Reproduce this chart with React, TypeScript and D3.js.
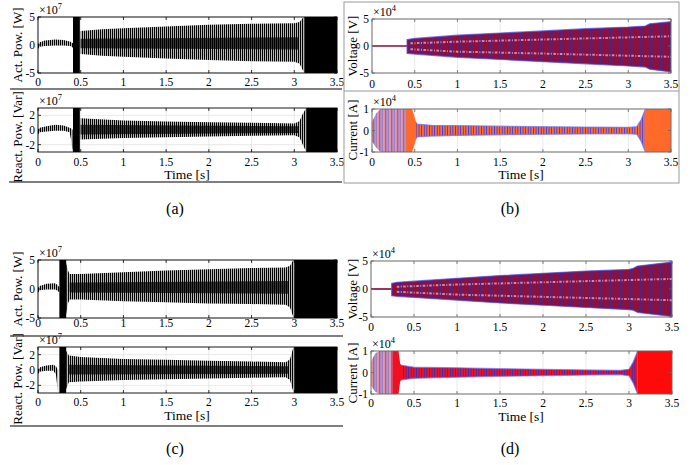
import React from "react";
import * as d3 from "d3";

type Env = [number, number, number]; // [time, lower, upper]

const timeTicks = [0, 0.5, 1, 1.5, 2, 2.5, 3, 3.5];

// (a) active power, x1e7
const actA_pre: Env[] = [[0, -0.7, 0.2], [0.02, -0.3, 0.5], [0.08, -0.2, 0.8], [0.2, -0.1, 1.0], [0.3, -0.1, 0.9], [0.38, -0.2, 0.6], [0.41, -0.5, 0.3]];
const actA_burst: Env[] = [[0.41, -5, 5], [0.49, -5, 5]];
const actA_main: Env[] = [[0.5, -1.6, 2.5], [0.75, -1.9, 2.8], [1.0, -2.1, 3.0], [1.5, -2.4, 3.3], [2.0, -2.7, 3.6], [2.5, -2.9, 3.8], [3.0, -3.0, 3.9], [3.06, -3.3, 4.1], [3.1, -4.5, 4.8], [3.12, -5, 5]];
const actA_core: Env[] = [[0.5, -0.6, 1.1], [3.05, -0.8, 1.4]];
const actA_tail: Env[] = [[3.12, -5, 5], [3.5, -5, 5]];

// (a) reactive power, x1e7
const reactA_pre: Env[] = [[0, -0.6, 0.1], [0.02, -0.3, 0.3], [0.1, -0.2, 0.5], [0.2, -0.1, 0.7], [0.3, -0.1, 0.6], [0.37, -0.3, 0.3], [0.39, -1.5, 0.2], [0.405, -3, 0]];
const reactA_burst: Env[] = [[0.41, -3, 3], [0.49, -3, 3]];
const reactA_main: Env[] = [[0.5, -1.3, 1.6], [1.0, -1.1, 1.3], [1.5, -1.0, 1.15], [2.0, -0.9, 1.05], [2.5, -0.8, 1.0], [3.0, -0.7, 0.9], [3.06, -1.0, 1.2], [3.1, -2.0, 2.2], [3.14, -3, 3]];
const reactA_core: Env[] = [[0.5, -0.6, 0.7], [3.05, -0.4, 0.5]];
const reactA_tail: Env[] = [[3.14, -3, 3], [3.5, -3, 3]];

// (b) voltage, x1e4
const voltB_pre: Env[] = [[0, -0.15, 0.15], [0.41, -0.15, 0.15]];
const voltB_main: Env[] = [[0.41, -1.4, 1.2], [0.5, -1.5, 1.4], [1.0, -2.1, 2.0], [1.5, -2.5, 2.4], [2.0, -2.9, 2.8], [2.5, -3.3, 3.2], [3.0, -3.7, 3.5], [3.2, -3.9, 3.7], [3.25, -4.3, 4.1], [3.5, -4.8, 4.5]];
const voltB_beads: Env[] = [[0.45, -0.6, 0.5], [1.0, -1.05, 0.8], [2.0, -1.4, 1.2], [3.0, -1.8, 1.6], [3.5, -2.0, 1.8]];

// (b) current, x1e4
const curB_pre: Env[] = [[0, -0.5, 0.4], [0.05, -0.8, 0.8], [0.1, -1, 1], [0.42, -1, 1]];
const curB_burst: Env[] = [[0.4, -1, 1], [0.47, -1, 1], [0.5, -0.6, 0.6], [0.52, -0.35, 0.3]];
const curB_main: Env[] = [[0.5, -0.45, 0.45], [0.53, -0.3, 0.3], [0.7, -0.26, 0.24], [1.0, -0.23, 0.23], [1.5, -0.2, 0.2], [2.0, -0.18, 0.18], [2.5, -0.16, 0.16], [3.0, -0.15, 0.15], [3.1, -0.18, 0.18], [3.15, -0.5, 0.5], [3.2, -1, 1]];
const curB_tail: Env[] = [[3.2, -1, 1], [3.5, -1, 1]];

// (c) active power, x1e7
const actC_pre: Env[] = [[0, -0.6, 0.2], [0.02, -0.2, 0.5], [0.1, -0.1, 0.9], [0.2, -0.1, 1.0], [0.23, -0.3, 0.7], [0.25, -0.6, 0.3]];
const actC_burst: Env[] = [[0.25, -5, 5], [0.33, -5, 5]];
const actC_main: Env[] = [[0.33, -4.5, 4.5], [0.35, -2.5, 3.2], [0.37, -1.8, 2.6], [0.5, -1.8, 2.6], [1.0, -2.1, 2.9], [1.5, -2.3, 3.2], [2.0, -2.5, 3.4], [2.5, -2.6, 3.6], [2.9, -2.7, 3.7], [2.95, -3.2, 4.0], [2.98, -4.5, 4.8], [3.0, -5, 5]];
const actC_core: Env[] = [[0.37, -0.6, 1.1], [2.93, -0.8, 1.4]];
const actC_tail: Env[] = [[3.0, -5, 5], [3.5, -5, 5]];

// (c) reactive power, x1e7
const reactC_pre: Env[] = [[0, -0.5, 0.1], [0.03, -0.2, 0.4], [0.1, -0.1, 0.6], [0.18, -0.1, 0.7], [0.21, -0.6, 0.5], [0.235, -3, 0]];
const reactC_burst: Env[] = [[0.25, -3, 3], [0.33, -3, 3]];
const reactC_main: Env[] = [[0.33, -2.5, 2.5], [0.36, -1.6, 1.9], [0.5, -1.5, 1.7], [1.0, -1.3, 1.45], [1.5, -1.2, 1.35], [2.0, -1.1, 1.2], [2.5, -1.0, 1.1], [2.9, -0.95, 1.0], [2.95, -1.3, 1.4], [2.98, -2.5, 2.6], [3.0, -3, 3]];
const reactC_core: Env[] = [[0.36, -0.6, 0.7], [2.93, -0.5, 0.5]];
const reactC_tail: Env[] = [[3.0, -3, 3], [3.5, -3, 3]];

// (d) voltage, x1e4
const voltD_pre: Env[] = [[0, -0.15, 0.15], [0.24, -0.15, 0.15]];
const voltD_main: Env[] = [[0.24, -1.2, 1.0], [0.3, -1.3, 1.2], [0.5, -1.5, 1.4], [1.0, -2.0, 1.9], [1.5, -2.5, 2.4], [2.0, -2.9, 2.8], [2.5, -3.3, 3.2], [3.0, -3.7, 3.5], [3.05, -3.8, 3.7], [3.1, -4.2, 4.1], [3.5, -4.9, 4.8]];
const voltD_beads: Env[] = [[0.3, -0.5, 0.4], [1.0, -1.0, 0.8], [2.0, -1.4, 1.2], [3.0, -1.8, 1.6], [3.5, -2.0, 1.8]];

// (d) current, x1e4
const curD_pre: Env[] = [[0, -0.6, 0.5], [0.05, -0.9, 0.9], [0.1, -1, 1], [0.26, -1, 1]];
const curD_burst: Env[] = [[0.25, -1, 1], [0.32, -1, 1], [0.34, -0.4, 0.4], [0.36, -0.3, 0.3]];
const curD_main: Env[] = [[0.34, -0.35, 0.35], [0.5, -0.27, 0.25], [1.0, -0.22, 0.22], [1.5, -0.18, 0.18], [2.0, -0.15, 0.15], [2.5, -0.12, 0.12], [2.9, -0.1, 0.1], [3.0, -0.15, 0.15], [3.05, -0.5, 0.5], [3.1, -1, 1]];
const curD_tail: Env[] = [[3.1, -1, 1], [3.5, -1, 1]];

type Layer = { data: Env[]; fill: string; stroke?: string; dashed?: boolean };

type PlotProps = {
  id: string;
  left: number; right: number; top: number; bottom: number;
  yDomain: [number, number];
  yTicks: number[];
  ylabel: string;
  ylabelX: number;
  ylabelY: number;
  exp: string;
  tickBase: number;
  xlabel?: [number, number];
  layers: Layer[];
  box: string;
};

const serif = { fontFamily: '"Liberation Serif", "Times New Roman", Times, serif' };

function Plot(p: PlotProps) {
  const x = d3.scaleLinear().domain([0, 3.5]).range([p.left, p.right]);
  const y = d3.scaleLinear().domain(p.yDomain).range([p.bottom, p.top]);
  const area = d3.area<Env>().x(d => x(d[0])).y0(d => y(d[1])).y1(d => y(d[2]));
  const lineHi = d3.line<Env>().x(d => x(d[0])).y(d => y(d[2]));
  const lineLo = d3.line<Env>().x(d => x(d[0])).y(d => y(d[1]));
  const tk = 3;
  return (
    <g>
      <clipPath id={`clip-${p.id}`}>
        <rect x={p.left} y={p.top} width={p.right - p.left} height={p.bottom - p.top} />
      </clipPath>
      {timeTicks.map(t => (
        <line key={`gx${t}`} x1={x(t)} x2={x(t)} y1={p.top} y2={p.bottom} stroke="#e3e3e3" strokeWidth={0.8} />
      ))}
      {p.yTicks.map(v => (
        <line key={`gy${v}`} x1={p.left} x2={p.right} y1={y(v)} y2={y(v)} stroke="#e3e3e3" strokeWidth={0.8} />
      ))}
      <g clipPath={`url(#clip-${p.id})`}>
        {p.layers.map((l, i) =>
          l.dashed ? (
            <g key={i}>
              <path d={lineHi(l.data) || ""} fill="none" stroke={l.fill} strokeWidth={2} strokeDasharray="2.5 1.5 1 1.5" />
              <path d={lineLo(l.data) || ""} fill="none" stroke={l.fill} strokeWidth={2} strokeDasharray="2.5 1.5 1 1.5" />
            </g>
          ) : (
            <path key={i} d={area(l.data) || ""} fill={l.fill} stroke={l.stroke || "none"} strokeWidth={l.stroke ? 1.2 : 0} strokeOpacity={0.7} />
          )
        )}
      </g>
      {timeTicks.map(t => (
        <g key={`tx${t}`}>
          <line x1={x(t)} x2={x(t)} y1={p.bottom} y2={p.bottom - tk} stroke={p.box} strokeWidth={0.8} />
          <line x1={x(t)} x2={x(t)} y1={p.top} y2={p.top + tk} stroke={p.box} strokeWidth={0.8} />
          <text x={x(t)} y={p.tickBase} textAnchor="middle" fontSize={11.5} style={serif}>{String(t)}</text>
        </g>
      ))}
      {p.yTicks.map(v => (
        <g key={`ty${v}`}>
          <line x1={p.left} x2={p.left + tk} y1={y(v)} y2={y(v)} stroke={p.box} strokeWidth={0.8} />
          <line x1={p.right} x2={p.right - tk} y1={y(v)} y2={y(v)} stroke={p.box} strokeWidth={0.8} />
          <text x={p.left - 3} y={y(v) + 4} textAnchor="end" fontSize={11.5} style={serif}>{String(v)}</text>
        </g>
      ))}
      <rect x={p.left} y={p.top} width={p.right - p.left} height={p.bottom - p.top} fill="none" stroke={p.box} strokeWidth={0.9} />
      <text x={p.left + 1} y={p.top - 3} fontSize={12} style={serif}>
        ×10<tspan dy={-5} fontSize={8.5}>{p.exp}</tspan>
      </text>
      <text transform={`translate(${p.ylabelX},${p.ylabelY}) rotate(-90)`} textAnchor="middle" fontSize={13} style={serif}>{p.ylabel}</text>
      {p.xlabel && (
        <text x={p.xlabel[0]} y={p.xlabel[1]} textAnchor="middle" fontSize={13.5} style={serif}>Time [s]</text>
      )}
    </g>
  );
}

export default function App() {
  const black = "url(#stBlack)";
  const dense = "url(#stDense)";
  return (
    <svg width={699} height={465} style={{ position: "absolute", left: 0, top: 0, background: "#fff" }}>
      <defs>
        <pattern id="stBlack" width={2} height={10} patternUnits="userSpaceOnUse">
          <rect width={2} height={10} fill="#f4f4f4" />
          <rect width={1.25} height={10} fill="#000" />
        </pattern>
        <pattern id="stDense" width={2} height={10} patternUnits="userSpaceOnUse">
          <rect width={2} height={10} fill="#888" />
          <rect width={1.6} height={10} fill="#000" />
        </pattern>
        <pattern id="stVolt" width={2.5} height={10} patternUnits="userSpaceOnUse">
          <rect width={2.5} height={10} fill="#8e0f3a" />
          <rect width={0.6} height={10} fill="#3a2a96" />
        </pattern>
        <pattern id="stCurPre" width={6} height={10} patternUnits="userSpaceOnUse">
          <rect width={6} height={10} fill="#f4e8f0" />
          <rect x={0} width={1.4} height={10} fill="#e090a0" />
          <rect x={1.4} width={1.1} height={10} fill="#b0103a" />
          <rect x={2.5} width={1.4} height={10} fill="#9090e0" />
          <rect x={4.4} width={1} height={10} fill="#6a3aa8" />
        </pattern>
        <pattern id="stCurB" width={2.6} height={10} patternUnits="userSpaceOnUse">
          <rect width={2.6} height={10} fill="#ff6e30" />
          <rect width={0.9} height={10} fill="#3c3ce0" />
        </pattern>
        <pattern id="stCurD" width={2.6} height={10} patternUnits="userSpaceOnUse">
          <rect width={2.6} height={10} fill="#f01020" />
          <rect width={0.9} height={10} fill="#3030c0" />
        </pattern>
      </defs>

      {/* (a) */}
      <Plot id="a1" left={38} right={337} top={17} bottom={73} yDomain={[-5, 5]} yTicks={[-5, 0, 5]}
        ylabel="Act. Pow. [W]" ylabelX={22} ylabelY={45} exp="7" tickBase={86} box="#000"
        layers={[{ data: actA_pre, fill: black }, { data: actA_burst, fill: "#000" }, { data: actA_main, fill: black }, { data: actA_core, fill: dense }, { data: actA_tail, fill: "#000" }]} />
      <Plot id="a2" left={38} right={337} top={108} bottom={152} yDomain={[-3, 3]} yTicks={[-2, 0, 2]}
        ylabel="React. Pow. [Var]" ylabelX={22} ylabelY={137} exp="7" tickBase={166} xlabel={[187, 179]} box="#000"
        layers={[{ data: reactA_pre, fill: black }, { data: reactA_burst, fill: "#000" }, { data: reactA_main, fill: black }, { data: reactA_core, fill: dense }, { data: reactA_tail, fill: "#000" }]} />
      <line x1={10} x2={342} y1={89} y2={89} stroke="#000" strokeWidth={1.2} />
      <line x1={9} x2={342} y1={182} y2={182} stroke="#000" strokeWidth={1.2} />

      {/* (b) */}
      <rect x={344} y={2} width={335} height={181} fill="none" stroke="#999" strokeWidth={1} />
      <line x1={344} x2={679} y1={91} y2={91} stroke="#999" strokeWidth={1} />
      <Plot id="b1" left={372} right={671} top={19} bottom={73} yDomain={[-5, 5]} yTicks={[-5, 0, 5]}
        ylabel="Voltage [V]" ylabelX={357} ylabelY={46} exp="4" tickBase={88} box="#666"
        layers={[{ data: voltB_pre, fill: "#8a1040" }, { data: voltB_main, fill: "url(#stVolt)", stroke: "#4a4ae8" }, { data: voltB_beads, fill: "#d08ab0", dashed: true }]} />
      <Plot id="b2" left={372} right={671} top={109} bottom={152} yDomain={[-1, 1]} yTicks={[-1, 0, 1]}
        ylabel="Current [A]" ylabelX={357} ylabelY={130} exp="4" tickBase={166} xlabel={[521, 179]} box="#666"
        layers={[{ data: curB_pre, fill: "url(#stCurPre)" }, { data: curB_main, fill: "url(#stCurB)", stroke: "#7070f0" }, { data: curB_burst, fill: "#ff6a2a" }, { data: curB_tail, fill: "#ff6a2a" }]} />

      {/* (c) */}
      <Plot id="c1" left={38} right={337} top={260} bottom={318} yDomain={[-5, 5]} yTicks={[-5, 0, 5]}
        ylabel="Act. Pow. [W]" ylabelX={22} ylabelY={289} exp="7" tickBase={327} box="#000"
        layers={[{ data: actC_pre, fill: black }, { data: actC_burst, fill: "#000" }, { data: actC_main, fill: black }, { data: actC_core, fill: dense }, { data: actC_tail, fill: "#000" }]} />
      <Plot id="c2" left={38} right={337} top={347} bottom={393} yDomain={[-3, 3]} yTicks={[-2, 0, 2]}
        ylabel="React. Pow. [Var]" ylabelX={22} ylabelY={379} exp="7" tickBase={406} xlabel={[187, 420]} box="#000"
        layers={[{ data: reactC_pre, fill: black }, { data: reactC_burst, fill: "#000" }, { data: reactC_main, fill: black }, { data: reactC_core, fill: dense }, { data: reactC_tail, fill: "#000" }]} />
      <line x1={10} x2={343} y1={336} y2={336} stroke="#000" strokeWidth={1.2} />
      <line x1={10} x2={343} y1={426} y2={426} stroke="#000" strokeWidth={1.2} />

      {/* (d) */}
      <Plot id="d1" left={371} right={672} top={261} bottom={317} yDomain={[-5, 5]} yTicks={[-5, 0, 5]}
        ylabel="Voltage [V]" ylabelX={357} ylabelY={289} exp="4" tickBase={331} box="#666"
        layers={[{ data: voltD_pre, fill: "#8a1040" }, { data: voltD_main, fill: "url(#stVolt)", stroke: "#4a4ae8" }, { data: voltD_beads, fill: "#d08ab0", dashed: true }]} />
      <Plot id="d2" left={371} right={672} top={351} bottom={394} yDomain={[-1, 1]} yTicks={[-1, 0, 1]}
        ylabel="Current [A]" ylabelX={357} ylabelY={373} exp="4" tickBase={407} xlabel={[521, 421]} box="#666"
        layers={[{ data: curD_pre, fill: "url(#stCurPre)" }, { data: curD_main, fill: "url(#stCurD)", stroke: "#7070f0" }, { data: curD_burst, fill: "#f01020" }, { data: curD_tail, fill: "#ff0a0a" }]} />

      <text x={175} y={214} textAnchor="middle" fontSize={16} style={serif}>(a)</text>
      <text x={510} y={214} textAnchor="middle" fontSize={16} style={serif}>(b)</text>
      <text x={175} y={454} textAnchor="middle" fontSize={16} style={serif}>(c)</text>
      <text x={510} y={454} textAnchor="middle" fontSize={16} style={serif}>(d)</text>
    </svg>
  );
}
